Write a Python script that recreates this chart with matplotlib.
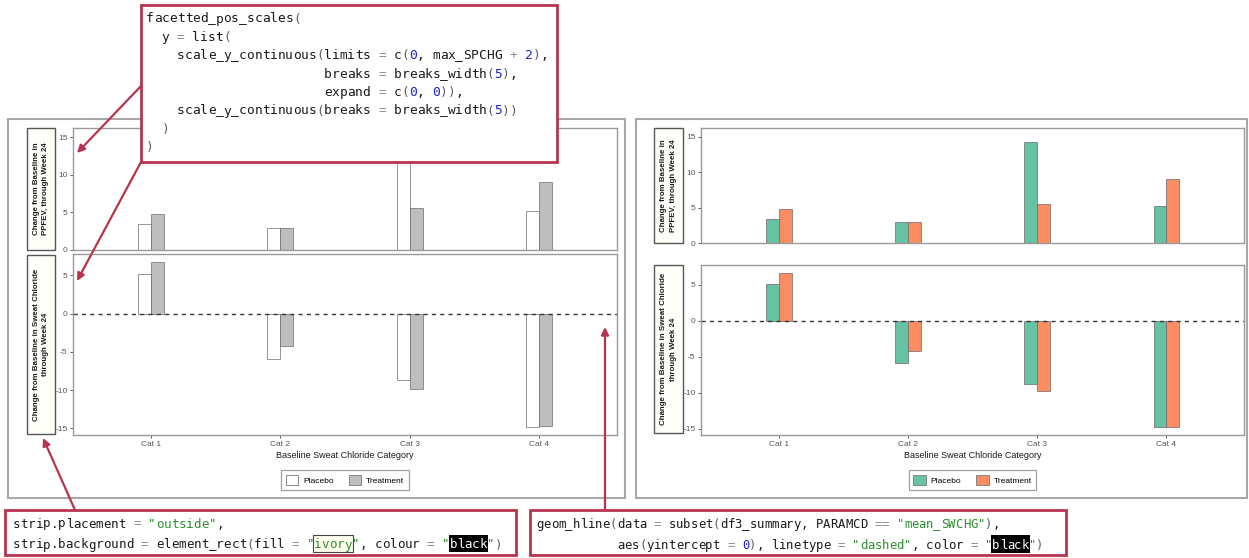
import re
import numpy as np
import matplotlib.pyplot as plt
from matplotlib.patches import Rectangle, Patch

# canvas size in pixels (dpi 100)
W, H = 1249, 558

# ---------------------------------------------------------------
# data
# ---------------------------------------------------------------
categories = ["Cat 1", "Cat 2", "Cat 3", "Cat 4"]
groups = ["Placebo", "Treatment"]

fev_placebo = [3.4, 2.95, 14.2, 5.15]
fev_treatment = [4.8, 2.9, 5.55, 9.0]
swc_placebo = [5.2, -5.9, -8.75, -14.8]
swc_treatment = [6.7, -4.2, -9.8, -14.7]

strip_labels = ["Change from Baseline in\nPPFEV, through Week 24",
                "Change from Baseline in Sweat Chloride\nthrough Week 24"]
x_title = "Baseline Sweat Chloride Category"

code_top = [
    "facetted_pos_scales(",
    "  y = list(",
    "    scale_y_continuous(limits = c(0, max_SPCHG + 2),",
    "                       breaks = breaks_width(5),",
    "                       expand = c(0, 0)),",
    "    scale_y_continuous(breaks = breaks_width(5))",
    "  )",
    ")",
]
code_strip = [
    'strip.placement = "outside",',
    'strip.background = element_rect(fill = "ivory", colour = "black")',
]
code_hline = [
    'geom_hline(data = subset(df3_summary, PARAMCD == "mean_SWCHG"),',
    '           aes(yintercept = 0), linetype = "dashed", color = "black")',
]

SANS = "Liberation Sans"
MONO = "DejaVu Sans Mono"
CRIMSON = "#b7344f"

fig = plt.figure(figsize=(W / 100, H / 100), dpi=100)
fig.patch.set_facecolor("white")


def px_axes(x0, y0, x1, y1, **kw):
    # axes placed by pixel box (y measured from the top)
    return fig.add_axes([x0 / W, 1 - y1 / H, (x1 - x0) / W, (y1 - y0) / H], **kw)


def style_axes(ax):
    for s in ax.spines.values():
        s.set_color("#9a9a9a")
        s.set_linewidth(1.0)
    ax.tick_params(axis="both", length=2.5, width=0.6, color="#444444",
                   labelsize=6, labelcolor="#555555", pad=1.5)
    for lab in ax.get_yticklabels() + ax.get_xticklabels():
        lab.set_fontfamily(SANS)


def facet_plot(frame, top_box, bot_box, strip_x, strip_top, strip_bot,
               colours, legend_y):
    x = np.arange(1, len(categories) + 1)
    w = 0.1

    # outer frame
    ov.add_patch(Rectangle((frame[0], frame[1]), frame[2] - frame[0],
                           frame[3] - frame[1], fill=False,
                           edgecolor="#a8a8a8", lw=1.5))

    # top facet: PPFEV change, fixed limits from 0
    ax1 = px_axes(*top_box)
    ax1.bar(x - w / 2, fev_placebo, w, color=colours[0],
            edgecolor="#6a6a6a", lw=0.5)
    ax1.bar(x + w / 2, fev_treatment, w, color=colours[1],
            edgecolor="#6a6a6a", lw=0.5)
    ax1.set_xlim(0.4, 4.6)
    ax1.set_ylim(0, max(fev_placebo + fev_treatment) + 2)
    ax1.set_yticks([0, 5, 10, 15])
    ax1.set_xticks([])
    style_axes(ax1)

    # bottom facet: sweat chloride change, default 5% expansion
    ax2 = px_axes(*bot_box)
    ax2.bar(x - w / 2, swc_placebo, w, color=colours[0],
            edgecolor="#6a6a6a", lw=0.5)
    ax2.bar(x + w / 2, swc_treatment, w, color=colours[1],
            edgecolor="#6a6a6a", lw=0.5)
    ax2.axhline(0, color="#333333", lw=1.0, dashes=(3, 3))
    lo = min(swc_placebo + swc_treatment + [0])
    hi = max(swc_placebo + swc_treatment + [0])
    pad = (hi - lo) * 0.05
    ax2.set_xlim(0.4, 4.6)
    ax2.set_ylim(lo - pad, hi + pad)
    ax2.set_yticks([-15, -10, -5, 0, 5])
    ax2.set_yticklabels(["-15", "-10", "-5", "0", "5"])
    ax2.set_xticks(x)
    ax2.set_xticklabels(categories)
    style_axes(ax2)

    # strips on the outside left
    for (y0, y1), lab in zip([strip_top, strip_bot], strip_labels):
        ov.add_patch(Rectangle((strip_x[0], y0), strip_x[1] - strip_x[0],
                               y1 - y0, facecolor="#fffffa",
                               edgecolor="#555555", lw=1.0))
        ov.text((strip_x[0] + strip_x[1]) / 2, (y0 + y1) / 2, lab,
                rotation=90, ha="center", va="center", fontsize=5.7,
                fontweight="bold", family=SANS, linespacing=1.45,
                color="#1a1a1a")

    cx = (bot_box[0] + bot_box[2]) / 2
    fig.text(cx / W, 1 - 456 / H, x_title, ha="center", va="center",
             fontsize=6.5, family=SANS, color="#1a1a1a")

    handles = [Patch(facecolor=c, edgecolor="#7a7a7a", lw=0.6) for c in colours]
    leg = fig.legend(handles, groups, loc="center", ncol=2,
                     bbox_to_anchor=(cx / W, 1 - legend_y / H),
                     prop={"family": SANS, "size": 6}, frameon=True,
                     fancybox=False, edgecolor="#8a8a8a", handlelength=1.5,
                     handleheight=1.6, handletextpad=0.6, columnspacing=1.8,
                     borderpad=0.55)
    leg.get_frame().set_linewidth(0.9)


# overlay in pixel coordinates for frames, strips and notes
ov = fig.add_axes([0, 0, 1, 1], zorder=5)
ov.set_xlim(0, W)
ov.set_ylim(H, 0)
ov.axis("off")
ov.patch.set_alpha(0)

facet_plot((8, 119, 625, 498), (73, 128, 617, 250), (73, 254, 617, 435),
           (27, 55), (128, 250), (255, 434), ["#ffffff", "#bebebe"], 480)
facet_plot((636, 119, 1247, 498), (701, 128, 1244, 243), (701, 265, 1244, 435),
           (654, 683), (128, 243), (265, 433), ["#66c2a5", "#fc8d62"], 480)

# ---------------------------------------------------------------
# code call-outs (drawn one character per cell, monospace grid)
# ---------------------------------------------------------------
TOKEN = re.compile(r'"[^"]*"|\b\d+\b|[A-Za-z_.][A-Za-z0-9_.]*|==|[=+]|[()]|\s+|.')


def token_colour(tok):
    if tok.startswith('"'):
        return "#2f8f2f"
    if tok.isdigit():
        return "#1f1fd0"
    if tok in ("=", "==", "+"):
        return "#8c8c8c"
    if tok in ("(", ")"):
        return "#56606e"
    return "#1a1a1a"


def put_chars(text, col, y, x0, cw, pt, colour):
    for k, ch in enumerate(text):
        if ch != " ":
            ov.text(x0 + (col + k + 0.5) * cw, y, ch, color=colour,
                    family=MONO, fontsize=pt, ha="center",
                    va="center_baseline", zorder=8)


def code_box(lines, box, x0, y0, line_h, pt):
    ov.add_patch(Rectangle((box[0], box[1]), box[2] - box[0], box[3] - box[1],
                           facecolor="white", edgecolor=CRIMSON, lw=2.0,
                           zorder=6))
    cw = 0.6021 * pt * 100 / 72
    for i, line in enumerate(lines):
        y = y0 + i * line_h
        col = 0
        for m in TOKEN.finditer(line):
            tok = m.group(0)
            colour = token_colour(tok)
            if tok in ('"ivory"', '"black"'):
                word = tok[1:-1]
                xs = x0 + (col + 1) * cw
                if word == "ivory":
                    ov.add_patch(Rectangle((xs - 1, y - line_h * 0.42),
                                           len(word) * cw + 2, line_h * 0.84,
                                           facecolor="#fffff0",
                                           edgecolor="#444444", lw=0.8,
                                           zorder=7))
                    fg = colour
                else:
                    ov.add_patch(Rectangle((xs - 1, y - line_h * 0.42),
                                           len(word) * cw + 2, line_h * 0.84,
                                           facecolor="black", lw=0, zorder=7))
                    fg = "white"
                put_chars('"', col, y, x0, cw, pt, colour)
                put_chars(word, col + 1, y, x0, cw, pt, fg)
                put_chars('"', col + 1 + len(word), y, x0, cw, pt, colour)
            else:
                put_chars(tok, col, y, x0, cw, pt, colour)
            col += len(tok)


def arrow(start, tip):
    ov.annotate("", xy=tip, xytext=start, zorder=9,
                arrowprops=dict(arrowstyle="-|>", color=CRIMSON, lw=1.6,
                                mutation_scale=11, shrinkA=0, shrinkB=0))


code_box(code_top, (141, 5, 557, 162), 146, 17.5, 18.4, 9.25)
code_box(code_strip, (5, 510, 516, 555), 13, 522.5, 21, 9.0)
code_box(code_hline, (530, 510, 1066, 555), 536, 523, 21, 8.8)

arrow((141, 86), (77, 153))
arrow((141, 162), (77, 281))
arrow((75, 510), (43, 438))
arrow((605, 510), (605, 327))

fig.savefig("out.png", dpi=100)
